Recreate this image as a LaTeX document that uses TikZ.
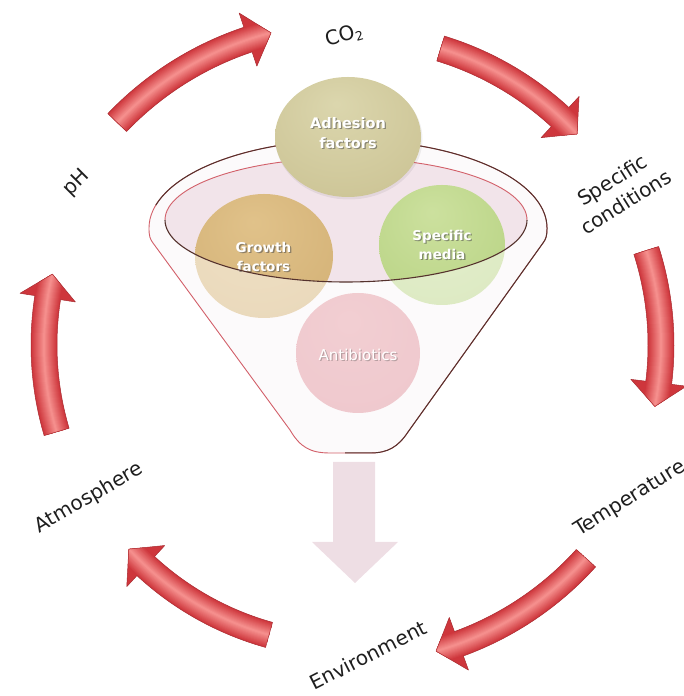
\documentclass[tikz,border=0pt]{standalone}
\usepackage{fontspec}
\setmainfont{DejaVu Sans}
\usetikzlibrary{calc}
\definecolor{txtdark}{RGB}{30,30,30}
\definecolor{arrE}{RGB}{206,54,60}
\definecolor{arrF}{RGB}{245,142,140}
\definecolor{arrLine}{RGB}{170,45,50}
\definecolor{rimred}{RGB}{210,95,105}
\definecolor{rimdark}{RGB}{85,50,45}
\definecolor{funnelbg}{RGB}{250,245,247}
\definecolor{funnelin}{RGB}{242,228,234}
\definecolor{bigarrow}{RGB}{238,222,228}
\pgfdeclareradialshading{adhsh}{\pgfpoint{-4bp}{14bp}}{rgb(0bp)=(0.86,0.84,0.68); rgb(30bp)=(0.81,0.78,0.60); rgb(52bp)=(0.74,0.71,0.50); rgb(60bp)=(0.68,0.64,0.44)}
\pgfdeclareradialshading{growsh}{\pgfpoint{-4bp}{14bp}}{rgb(0bp)=(0.88,0.76,0.54); rgb(30bp)=(0.84,0.71,0.48); rgb(52bp)=(0.78,0.63,0.40); rgb(60bp)=(0.72,0.57,0.35)}
\pgfdeclareradialshading{specsh}{\pgfpoint{-4bp}{14bp}}{rgb(0bp)=(0.80,0.88,0.62); rgb(30bp)=(0.74,0.84,0.54); rgb(52bp)=(0.66,0.78,0.44); rgb(60bp)=(0.60,0.72,0.38)}
\pgfdeclareradialshading{antish}{\pgfpoint{-4bp}{14bp}}{rgb(0bp)=(0.90,0.62,0.65); rgb(30bp)=(0.88,0.58,0.62); rgb(52bp)=(0.84,0.52,0.56); rgb(60bp)=(0.80,0.46,0.50)}
\tikzset{
  lbl/.style={text=txtdark, font=\fontsize{20}{26}\selectfont, inner sep=0pt, align=center},
  ctext/.style={text=white, inner sep=0pt, align=center},
  cshadow/.style={text=black!70, opacity=0.55, inner sep=0pt, align=center},
  arrowline/.style={draw=arrLine, line width=0.5pt, line join=round},
}
\newcommand{\cycarrow}[3]{%
  \pgfmathsetmacro{\hb}{#3+24/#1*57.2958}%
  \pgfmathsetmacro{\ro}{#1+13}%
  \pgfmathsetmacro{\ri}{#1-13}%
  \pgfmathsetmacro{\rH}{#1+28}%
  \pgfmathsetmacro{\rL}{#1-28}%
  \fill[black, opacity=0.10, shift={(2,-3)}] ($(C)+(#2:\ro)$) arc[start angle=#2,end angle=\hb,radius=\ro] -- ($(C)+(\hb:\rH)$) -- ($(C)+(#3:#1)$) -- ($(C)+(\hb:\rL)$) -- ($(C)+(\hb:\ri)$) arc[start angle=\hb,end angle=#2,radius=\ri] -- cycle;
  \begin{scope}
    \clip ($(C)+(#2:\ro)$) arc[start angle=#2,end angle=\hb,radius=\ro] -- ($(C)+(\hb:\rH)$) -- ($(C)+(#3:#1)$) -- ($(C)+(\hb:\rL)$) -- ($(C)+(\hb:\ri)$) arc[start angle=\hb,end angle=#2,radius=\ri] -- cycle;
    \draw[arrE, line width=60pt] ($(C)+(#2:#1)$) arc[start angle=#2,end angle=#3,radius=#1];
    \foreach \k in {1,...,12}{%
      \pgfmathsetmacro{\lw}{26-2*\k}%
      \pgfmathsetmacro{\pc}{8.3*\k}%
      \draw[arrF!\pc!arrE, line width=\lw pt] ($(C)+(#2:#1)$) arc[start angle=#2,end angle=#3,radius=#1];
    }
  \end{scope}
  \draw[arrowline] ($(C)+(#2:\ro)$) arc[start angle=#2,end angle=\hb,radius=\ro] -- ($(C)+(\hb:\rH)$) -- ($(C)+(#3:#1)$) -- ($(C)+(\hb:\rL)$) -- ($(C)+(\hb:\ri)$) arc[start angle=\hb,end angle=#2,radius=\ri] -- cycle;
}
\newcommand{\funnelpath}{(149,468) arc[start angle=180,end angle=0,x radius=199,y radius=88] .. controls (547,460) and (546,457) .. (543,453) -- (408,264) .. controls (398,249) and (388,243) .. (370,243) -- (330,243) .. controls (310,243) and (300,249) .. (290,266) -- (153,453) .. controls (150,457) and (149,460) .. (149,468) -- cycle}
\begin{document}
\begin{tikzpicture}[x=1pt,y=1pt]
\useasboundingbox (0,0) rectangle (683,696);
\coordinate (C) at (350,351);

% cycle arrows
\cycarrow{322}{136.3}{104.2}
\cycarrow{310}{73}{42.9}
\cycarrow{311}{17.7}{-11.4}
\cycarrow{318}{-42.1}{-74.3}
\cycarrow{301}{-105.6}{-137.3}
\cycarrow{306}{196.5}{166.6}

% outer labels
\node[lbl, rotate=45] (ph) at (77,513) {pH};
\node[lbl, rotate=16] (co2) at (344,660) {CO\raisebox{-0.3ex}{\fontsize{12.5}{12.5}\selectfont 2}};
\node[lbl, rotate=32] (spc) at (619,505) {Specific\\conditions};
\node[lbl, rotate=32] (temp) at (630,197) {Temperature};
\node[lbl, rotate=27] (env) at (368,41) {Environment};
\node[lbl, rotate=30] (atm) at (89,198) {Atmosphere};

% big pale down arrow
\fill[bigarrow] (333,234) -- (375,234) -- (375,154) -- (398,154) -- (355,113) -- (312,154) -- (333,154) -- cycle;

% funnel background
\fill[funnelbg] \funnelpath;
\fill[funnelin] (346,476) ellipse[x radius=181, y radius=62];

% circles inside the funnel
\shade[shading=growsh] (264,440) ellipse[x radius=69, y radius=62];
\shade[shading=specsh] (442,451) ellipse[x radius=63, y radius=60];
\shade[shading=antish] (358,343) ellipse[x radius=62, y radius=60];

% funnel glass over the circles
\fill[white, opacity=0.5, even odd rule] \funnelpath (346,476) ellipse[x radius=181, y radius=62];

% circle texts
\node[cshadow, font=\fontsize{13.5}{19}\selectfont\bfseries] at (264.8,437.8) {Growth\\factors};
\node[ctext, font=\fontsize{13.5}{19}\selectfont\bfseries] (grow) at (263.5,439) {Growth\\factors};
\node[cshadow, font=\fontsize{13.5}{19}\selectfont\bfseries] at (443.3,449.8) {Specific\\media};
\node[ctext, font=\fontsize{13.5}{19}\selectfont\bfseries] (spec) at (442,451) {Specific\\media};
\node[cshadow, opacity=0.35, font=\fontsize{15}{18}\selectfont] at (359.2,339.8) {Antibiotics};
\node[ctext, font=\fontsize{15}{18}\selectfont] (anti) at (358,341) {Antibiotics};

% rim lines
\draw[rimred, line width=0.9pt] (165,476) arc[start angle=180,end angle=0,x radius=181,y radius=62];
\draw[rimdark, line width=1.1pt] (165,476) arc[start angle=180,end angle=360,x radius=181,y radius=62];
\draw[rimred, line width=0.9pt] \funnelpath;
\draw[rimdark, line width=1.0pt] (155.8,490.8) arc[start angle=165,end angle=0,x radius=199,y radius=88] .. controls (547,460) and (546,457) .. (543,453) -- (408,264) .. controls (398,249) and (388,243) .. (370,243) -- (345,243);

% adhesion circle on top
\fill[black, opacity=0.06] (349,557) ellipse[x radius=73.5, y radius=60.5];
\shade[shading=adhsh] (348,559) ellipse[x radius=73, y radius=60];
\node[cshadow, font=\fontsize{14.5}{20}\selectfont\bfseries] at (349.3,561.8) {Adhesion\\factors};
\node[ctext, font=\fontsize{14.5}{20}\selectfont\bfseries] (adh) at (348,563) {Adhesion\\factors};
\end{tikzpicture}
\end{document}
